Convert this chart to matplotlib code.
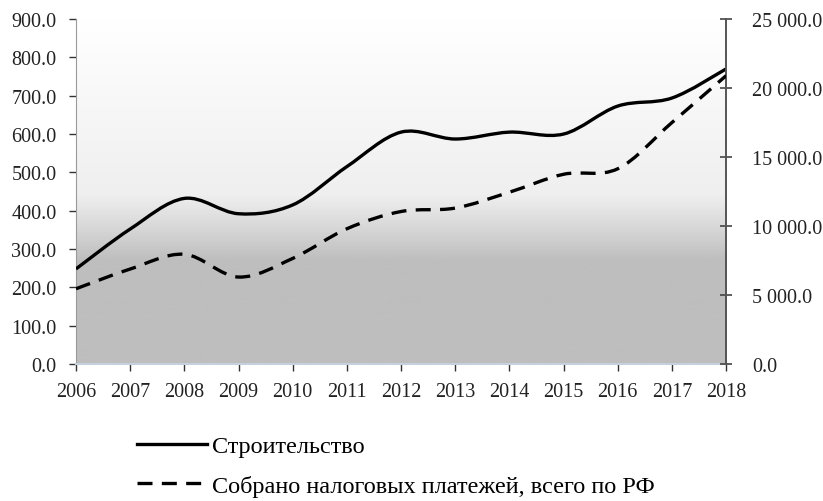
import numpy as np
import matplotlib
matplotlib.use("Agg")
import matplotlib.pyplot as plt
from matplotlib.path import Path
from matplotlib.patches import PathPatch
from matplotlib.lines import Line2D
from matplotlib.colors import LinearSegmentedColormap
from matplotlib.ticker import FuncFormatter

plt.rcParams['font.family'] = ['Liberation Serif', 'DejaVu Serif']

years = [2006, 2007, 2008, 2009, 2010, 2011, 2012, 2013, 2014, 2015, 2016, 2017, 2018]
construction = [248, 352, 432, 392, 415, 515, 605, 587, 605, 600, 673, 694, 770]
taxes_total = [5450, 6880, 7950, 6300, 7650, 9800, 11050, 11300, 12450, 13750, 14150, 17500, 20900]

label_construction = "Строительство"
label_taxes = "Собрано налоговых платежей, всего по РФ"


def smooth_path(x, y):
    # Catmull-Rom -> cubic bezier, like Excel's smoothed line
    x = np.asarray(x, float)
    y = np.asarray(y, float)
    verts = [(x[0], y[0])]
    codes = [Path.MOVETO]
    n = len(x)
    for i in range(n - 1):
        x0, y0 = (x[i - 1], y[i - 1]) if i > 0 else (x[i], y[i])
        x3, y3 = (x[i + 2], y[i + 2]) if i + 2 < n else (x[i + 1], y[i + 1])
        c1 = (x[i] + (x[i + 1] - x0) / 6, y[i] + (y[i + 1] - y0) / 6)
        c2 = (x[i + 1] - (x3 - x[i]) / 6, y[i + 1] - (y3 - y[i]) / 6)
        verts += [c1, c2, (x[i + 1], y[i + 1])]
        codes += [Path.CURVE4] * 3
    return Path(verts, codes)


fig = plt.figure(figsize=(8.23, 5.02), dpi=100)
ax = fig.add_axes([0.0923, 0.273, 0.79, 0.687])
ax2 = ax.twinx()

# background gradient
cmap = LinearSegmentedColormap.from_list(
    "bg", [(0.0, "#bebebe"), (0.30, "#bebebe"), (0.40, "#d9d9d9"),
           (0.49, "#efefef"), (1.0, "#ffffff")])
grad = np.linspace(0, 1, 400).reshape(-1, 1)
ax.imshow(grad, cmap=cmap, aspect="auto", origin="lower",
          extent=[0, 1, 0, 1], transform=ax.transAxes, zorder=0)

dash = (0, (4.5, 2.8))
ax.add_patch(PathPatch(smooth_path(years, construction), fill=False,
                       edgecolor="black", lw=2.4, zorder=3))
ax2.add_patch(PathPatch(smooth_path(years, taxes_total), fill=False,
                        edgecolor="black", lw=2.4, linestyle=dash, zorder=3))

ax.set_xlim(2006, 2018)
ax.set_ylim(0, 900)
ax2.set_ylim(0, 25000)
ax.set_xticks(years)
ax.set_yticks(np.arange(0, 901, 100))
ax2.set_yticks(np.arange(0, 25001, 5000))
ax.yaxis.set_major_formatter(FuncFormatter(lambda v, p: f"{v:.1f}"))
ax2.yaxis.set_major_formatter(
    FuncFormatter(lambda v, p: f"{v:,.1f}".replace(",", " ")))

ax.tick_params(axis="both", labelsize=14.5, color="#333333", length=5, width=1,
               labelcolor="#222222")
ax.tick_params(axis="y", pad=9)
ax.tick_params(axis="x", pad=8)
ax2.tick_params(axis="y", labelsize=14.5, color="#444444", length=9, width=1.2,
                direction="inout", labelcolor="#222222", pad=14)

ax.spines["top"].set_visible(False)
ax2.spines["top"].set_visible(False)
ax.spines["right"].set_visible(False)
ax2.spines["left"].set_visible(False)
ax2.spines["bottom"].set_visible(False)
ax.spines["left"].set_color("#9a9a9a")
ax.spines["left"].set_linewidth(0.8)
ax.spines["bottom"].set_color("#c5d2de")
ax.spines["bottom"].set_linewidth(1.5)
ax2.spines["right"].set_color("#555555")
ax2.spines["right"].set_linewidth(1.4)

handles = [Line2D([], [], color="black", lw=2.4),
           Line2D([], [], color="black", lw=2.4, linestyle=dash)]
fig.legend(handles, [label_construction, label_taxes], loc="upper left",
           bbox_to_anchor=(0.166, 0.131), frameon=False, fontsize=17.5,
           handlelength=2.9, handletextpad=0.2, labelspacing=0.72,
           borderaxespad=0, borderpad=0)

fig.savefig("out.png", dpi=100)
